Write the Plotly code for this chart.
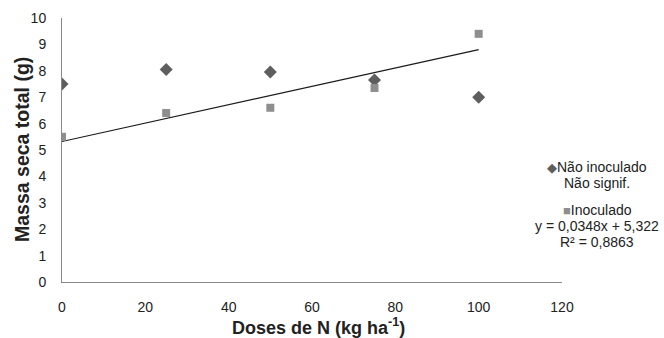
import plotly.graph_objects as go

doses = [0, 25, 50, 75, 100]
nao_inoculado = [7.5, 8.05, 7.95, 7.65, 7.0]
inoculado = [5.5, 6.4, 6.6, 7.35, 9.4]
slope = 0.0348
intercept = 5.322
trend_x = [0, 100]
trend_y = [intercept + slope * x for x in trend_x]

x_ticks = [0, 20, 40, 60, 80, 100, 120]
y_ticks = list(range(0, 11))

font = "Liberation Sans, Arial, sans-serif"
L, R, T, B = 62, 102, 18, 56
W, H = 664, 338
PW, PH = W - L - R, H - T - B


def px(xp):
    return (xp - L) / PW


def py(yp):
    return (H - B - yp) / PH


fig = go.Figure()
fig.add_trace(go.Scatter(x=trend_x, y=trend_y, mode="lines",
                         line=dict(color="#1a1a1a", width=1.2), showlegend=False))
fig.add_trace(go.Scatter(x=doses, y=nao_inoculado, mode="markers", name="Não inoculado",
                         marker=dict(symbol="diamond", size=10, color="#5e5e5e"), showlegend=False))
fig.add_trace(go.Scatter(x=doses, y=inoculado, mode="markers", name="Inoculado",
                         marker=dict(symbol="square", size=8, color="#8e8e8e"), showlegend=False))

fig.update_layout(
    width=W, height=H,
    margin=dict(l=L, r=R, t=T, b=B),
    paper_bgcolor="white", plot_bgcolor="white",
    font=dict(family=font, size=14, color="#222"),
    xaxis=dict(range=[0, 120], tickvals=x_ticks, showgrid=False, zeroline=False,
               showline=True, linecolor="#888", linewidth=1, ticks="",
               ticklabelstandoff=12, automargin=False,
               tickfont=dict(size=14, color="#222")),
    yaxis=dict(range=[0, 10], tickvals=y_ticks, showgrid=False, zeroline=False,
               showline=True, linecolor="#888", linewidth=1, ticks="",
               ticklabelstandoff=12, automargin=False,
               tickfont=dict(size=14, color="#222")),
)

# axis titles
fig.add_annotation(text="<b>Doses de N (kg ha<sup>-1</sup>)</b>", xref="paper", yref="paper",
                   x=px(318), y=py(326), xanchor="center", yanchor="middle", showarrow=False,
                   font=dict(family=font, size=18, color="#222"))
fig.add_annotation(text="<b>Massa seca total (g)</b>", xref="paper", yref="paper",
                   x=px(22), y=py(150), xanchor="center", yanchor="middle", showarrow=False,
                   textangle=-90, font=dict(family=font, size=19.5, color="#222"))

ann_font = dict(family=font, size=14, color="#222")
legend_lines = [
    ("<span style='color:#5e5e5e;font-size:13px'>◆</span>Não inoculado", 167),
    ("Não signif.", 183),
    ("<span style='color:#8e8e8e;font-size:13px'>■</span>Inoculado", 210),
    ("y = 0,0348x + 5,322", 226),
    ("R² = 0,8863", 242),
]
for text, ypix in legend_lines:
    fig.add_annotation(text=text, xref="paper", yref="paper",
                       x=px(597), y=py(ypix),
                       xanchor="center", yanchor="middle", showarrow=False, font=ann_font)

fig.write_html("out.html", config={"displayModeBar": False},
               post_script="document.body.style.margin='0';document.body.style.overflow='hidden';")
